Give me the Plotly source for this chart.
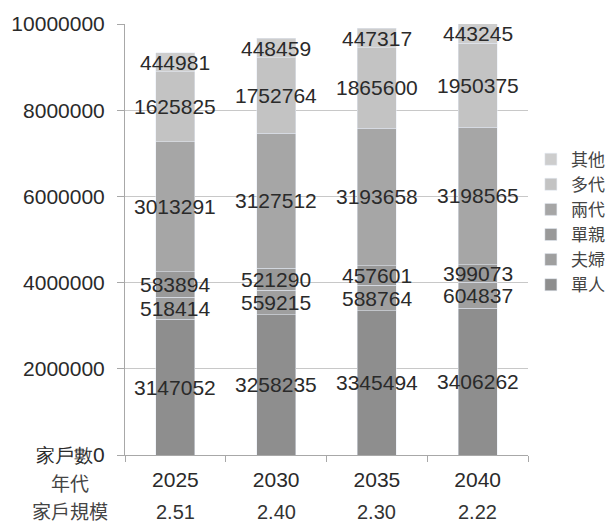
import plotly.graph_objects as go
import numpy as np

years = ["2025", "2030", "2035", "2040"]
household_size = ["2.51", "2.40", "2.30", "2.22"]
series_names = ["單人", "夫婦", "單親", "兩代", "多代", "其他"]
single = [3147052, 3258235, 3345494, 3406262]
couple = [518414, 559215, 588764, 604837]
single_parent = [583894, 521290, 457601, 399073]
two_gen = [3013291, 3127512, 3193658, 3198565]
multi_gen = [1625825, 1752764, 1865600, 1950375]
other = [444981, 448459, 447317, 443245]
y_tick_vals = [0, 2000000, 4000000, 6000000, 8000000, 10000000]
y_tick_text = ['<span style="font-size:19px">家戶數</span>0', "2000000", "4000000",
               "6000000", "8000000", "10000000"]

colors = ["#8e8e8e", "#9f9f9f", "#999999", "#a6a6a6", "#c3c3c3", "#cdcdcd"]
series = [single, couple, single_parent, two_gen, multi_gen, other]

NUM_FONT = "Liberation Sans, Arial, sans-serif"
CJK_FONT = "Noto Sans CJK TC, Noto Sans CJK SC, sans-serif"

fig = go.Figure()
for name, vals, c in zip(series_names, series, colors):
    fig.add_trace(go.Bar(x=years, y=vals, name=name, marker_color=c))

annotations = []
cum = np.zeros(len(years))
for vals in series:
    v = np.array(vals, dtype=float)
    mids = cum + v / 2
    for i, (yi, val) in enumerate(zip(mids, vals)):
        annotations.append(dict(x=i, y=float(yi), xref="x", yref="y", text=str(val), showarrow=False,
                                font=dict(size=21, color="#2a2a2a", family=NUM_FONT)))
    cum = cum + v

for i, s in enumerate(household_size):
    annotations.append(dict(x=i, y=0, xref="x", yref="paper", yshift=-57, text=s, showarrow=False,
                            yanchor="middle", font=dict(size=20, color="#333", family=NUM_FONT)))
annotations.append(dict(x=-0.136, y=0, xref="paper", yref="paper", yshift=-27, text="年代",
                        showarrow=False, yanchor="middle", xanchor="center",
                        font=dict(size=19, color="#444", family=CJK_FONT)))
annotations.append(dict(x=-0.136, y=0, xref="paper", yref="paper", yshift=-55, text="家戶規模",
                        showarrow=False, yanchor="middle", xanchor="center",
                        font=dict(size=19, color="#444", family=CJK_FONT)))

fig.update_layout(
    width=608, height=516,
    margin=dict(l=117, r=88, t=16, b=69),
    barmode="stack", bargap=0.613,
    plot_bgcolor="white", paper_bgcolor="white",
    font=dict(family=NUM_FONT, size=21, color="#333"),
    annotations=annotations,
    legend=dict(xref="container", yref="container", x=0.86, y=0.585,
                xanchor="left", yanchor="middle", traceorder="reversed",
                font=dict(family=CJK_FONT, size=17, color="#444"),
                bgcolor="rgba(0,0,0,0)"),
    showlegend=True,
)
fig.update_yaxes(range=[0, 10000000], tickvals=y_tick_vals, ticktext=y_tick_text,
                 showgrid=True, gridcolor="#c8c8c8", gridwidth=1,
                 showline=True, linecolor="#a8a8a8", linewidth=1,
                 ticks="outside", ticklen=7, tickcolor="#a8a8a8",
                 ticklabelstandoff=8, zeroline=False, automargin=False,
                 tickfont=dict(size=21, color="#2a2a2a", family=NUM_FONT))
fig.update_xaxes(type="category", showline=True, linecolor="#a8a8a8", linewidth=1,
                 ticks="outside", ticklen=6, tickcolor="#a8a8a8", tickson="boundaries",
                 ticklabelstandoff=6, automargin=False,
                 tickfont=dict(size=21, color="#2a2a2a", family=NUM_FONT))

fig.write_html("out.html")
